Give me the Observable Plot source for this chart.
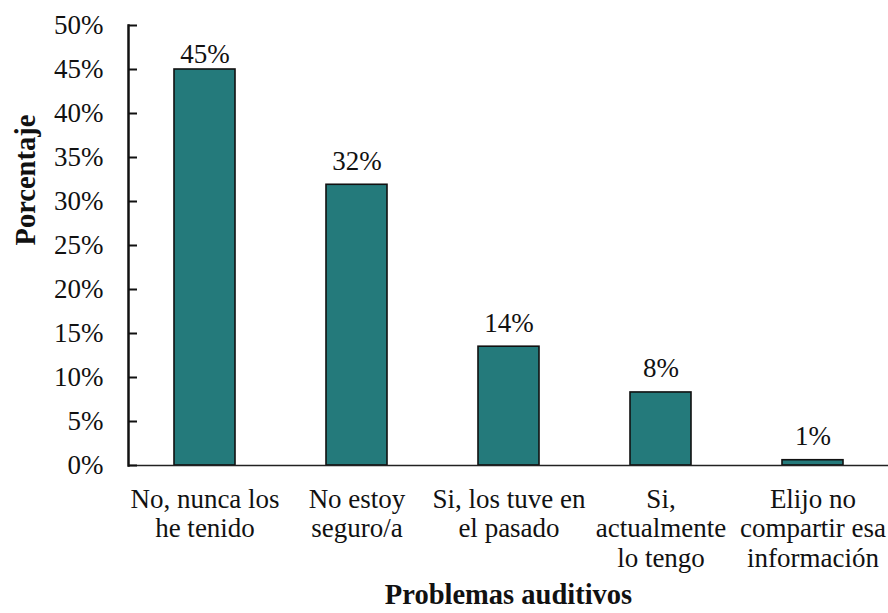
<!DOCTYPE html>
<html>
<head>
<meta charset="utf-8">
<script src="https://cdn.jsdelivr.net/npm/d3@7"></script>
<script src="https://cdn.jsdelivr.net/npm/@observablehq/plot@0.6"></script>
<style>
  html, body { margin: 0; padding: 0; background: #fff; }
  #chart svg { display: block; overflow: visible; }
</style>
</head>
<body>
<div id="chart"></div>
<script>
// Survey answers about hearing problems (share of respondents, %)
const categories = [
  "No, nunca los\nhe tenido",
  "No estoy\nseguro/a",
  "Si, los tuve en\nel pasado",
  "Si,\nactualmente\nlo tengo",
  "Elijo no\ncompartir esa\ninformación"
];
const percentages = [45, 31.9, 13.5, 8.3, 0.6];
const yTicks = [0, 5, 10, 15, 20, 25, 30, 35, 40, 45, 50];

const xTitle = "Problemas auditivos";
const yTitle = "Porcentaje";

const data = categories.map((c, i) => ({category: c, value: percentages[i]}));

const serif = "Times New Roman, Liberation Serif, serif";
const teal = "#247a7b";

const chart = Plot.plot({
  width: 888,
  height: 613,
  marginLeft: 128,
  marginRight: 0,
  marginTop: 25,
  marginBottom: 148,
  style: {fontFamily: serif, fontSize: "27px", color: "#111", background: "#fff"},
  x: {type: "band", domain: categories, paddingInner: 0.6, paddingOuter: 0.3, label: null},
  y: {domain: [0, 50], label: null},
  marks: [
    Plot.barY(data, {x: "category", y: "value", fill: teal, stroke: "#111", strokeWidth: 1.6}),
    // value labels above each bar, kept inside the plotting area
    Plot.text(data, {
      x: "category",
      y: d => Math.min(d.value, 44),
      text: d => `${Math.round(d.value)}%`,
      lineAnchor: "bottom",
      dy: -15,
      fontSize: 27,
      fontFamily: serif,
      fontWeight: "normal",
      fill: "#111"
    }),
    // category axis (labels only) and baseline
    Plot.axisX({tickSize: 0, tickPadding: 21, fontSize: 27, fontFamily: serif, fontWeight: "normal", lineHeight: 1.1, label: null}),
    Plot.ruleY([0], {stroke: "#222", strokeWidth: 1.5}),
    // value axis: labels outside, ticks pointing inward
    Plot.axisY({ticks: yTicks, tickFormat: d => `${d}%`, tickSize: 0, tickPadding: 25, fontSize: 27, fontFamily: serif, fontWeight: "normal", label: null}),
    Plot.axisY({ticks: yTicks, tickFormat: () => "", tickSize: -9, strokeWidth: 2, stroke: "#111", label: null}),
    Plot.frame({anchor: "left", stroke: "#111", strokeWidth: 2.5}),
    // axis titles
    Plot.text([xTitle], {
      frameAnchor: "bottom", dy: 138, lineAnchor: "bottom",
      fontSize: 28.5, fontWeight: "bold", fontFamily: serif, fill: "#111"
    }),
    Plot.text([yTitle], {
      frameAnchor: "left", dx: -103, rotate: -90, lineAnchor: "middle",
      fontSize: 28.5, fontWeight: "bold", fontFamily: serif, fill: "#111"
    })
  ]
});

document.getElementById("chart").append(chart);
</script>
</body>
</html>
